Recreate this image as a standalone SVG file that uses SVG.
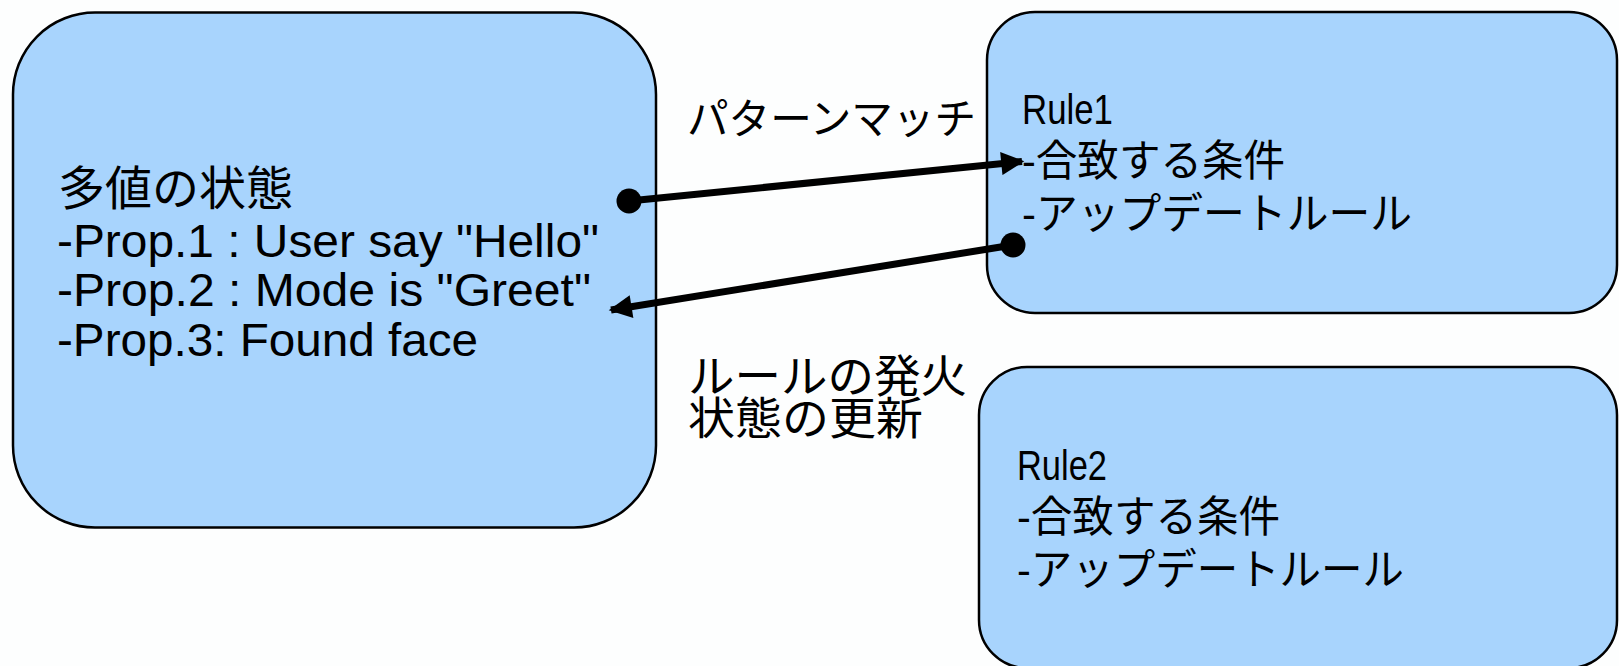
<svg xmlns="http://www.w3.org/2000/svg" width="1619" height="666" viewBox="0 0 1619 666">
<style>
.box{fill:#a8d4fd;stroke:#000;stroke-width:2.5}
.t{font-family:"Liberation Sans","Noto Sans CJK JP",sans-serif;fill:#000}
.l{font-size:47px}
.r{font-size:43px}
.c{stroke:#000;stroke-width:7;fill:none}
</style>
<defs>
<marker id="arr" viewBox="0 0 10 10" refX="9" refY="5" markerWidth="3.8" markerHeight="3.3" orient="auto" markerUnits="strokeWidth">
<path d="M0,0 L10,5 L0,10 z" fill="#000"/>
</marker>
</defs>
<rect width="1619" height="666" fill="#fdfefe"/>
<g id="state">
<rect class="box" x="13" y="12.5" width="643" height="515" rx="82" ry="82"/>
<text class="t l" x="58" y="205" textLength="235" lengthAdjust="spacingAndGlyphs">多値の状態</text>
<text class="t l" x="57" y="257" textLength="542" lengthAdjust="spacingAndGlyphs">-Prop.1 : User say "Hello"</text>
<text class="t l" x="57" y="306" textLength="534" lengthAdjust="spacingAndGlyphs">-Prop.2 : Mode is "Greet"</text>
<text class="t l" x="57" y="356" textLength="421" lengthAdjust="spacingAndGlyphs">-Prop.3: Found face</text>
</g>
<g id="rule1">
<rect class="box" x="987" y="12" width="630" height="301" rx="48" ry="48"/>
<text class="t r" x="1022" y="124" textLength="91" lengthAdjust="spacingAndGlyphs">Rule1</text>
<text class="t r" x="1022" y="176" textLength="263" lengthAdjust="spacingAndGlyphs">-合致する条件</text>
<text class="t r" x="1022" y="229" textLength="390" lengthAdjust="spacingAndGlyphs">-アップデートルール</text>
</g>
<g id="rule2">
<rect class="box" x="979" y="367" width="638" height="301" rx="48" ry="48"/>
<text class="t r" x="1017" y="480" textLength="90" lengthAdjust="spacingAndGlyphs">Rule2</text>
<text class="t r" x="1017" y="532" textLength="263" lengthAdjust="spacingAndGlyphs">-合致する条件</text>
<text class="t r" x="1017" y="585" textLength="387" lengthAdjust="spacingAndGlyphs">-アップデートルール</text>
</g>
<g id="labels">
<text class="t" style="font-size:42px" x="687" y="134" textLength="289" lengthAdjust="spacingAndGlyphs">パターンマッチ</text>
<text class="t" style="font-size:45px" x="688" y="393" textLength="279" lengthAdjust="spacingAndGlyphs">ルールの発火</text>
<text class="t" style="font-size:45px" x="688" y="435" textLength="235" lengthAdjust="spacingAndGlyphs">状態の更新</text>
</g>
<g id="connectors">
<line class="c" x1="629" y1="201" x2="1022" y2="161.5" marker-end="url(#arr)"/>
<circle cx="629" cy="201" r="12.5" fill="#000"/>
<line class="c" x1="1013" y1="245" x2="611" y2="310" marker-end="url(#arr)"/>
<circle cx="1013" cy="245" r="12.5" fill="#000"/>
</g>
</svg>
